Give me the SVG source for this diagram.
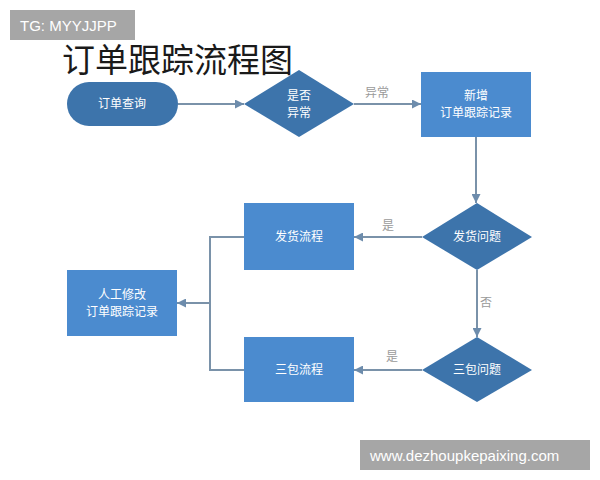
<svg xmlns="http://www.w3.org/2000/svg" width="600" height="480" viewBox="0 0 600 480">
<defs>
<marker id="ah" viewBox="0 0 10 10" refX="10" refY="5" markerWidth="9" markerHeight="9" markerUnits="userSpaceOnUse" orient="auto">
<path d="M0,0 L10,5 L0,10 z" fill="#6d8cac"/>
</marker>
</defs>
<style>
.lbl{font-family:"Noto Sans CJK SC","Liberation Sans",sans-serif;font-size:12px;fill:#ffffff;text-anchor:middle}
.dk{fill:#3d74ab}
.lt{fill:#4b8bcf}
.ln{fill:none;stroke:#7a92a9;stroke-width:2}
.el{font-family:"Noto Sans CJK SC","Liberation Sans",sans-serif;font-size:12px;fill:#9a9a9a;text-anchor:middle}
.wm{fill:#a6a6a6}
.wt{font-family:"Liberation Sans",sans-serif;font-size:15px;fill:#ffffff}
</style>
<rect width="600" height="480" fill="#ffffff"/>
<g id="tag"><rect class="wm" x="10" y="10" width="125" height="30"/><text class="wt" x="20" y="31">TG: MYYJJPP</text></g>
<text x="62" y="72" font-family="Noto Sans CJK SC,sans-serif" font-size="33" fill="#1a1a1a">订单跟踪流程图</text>
<g id="connectors">
<path class="ln" d="M178,104 H244" marker-end="url(#ah)"/>
<path class="ln" d="M354,104 H421" marker-end="url(#ah)"/>
<text class="el" x="377" y="97">异常</text>
<path class="ln" d="M476,137 V203" marker-end="url(#ah)"/>
<path class="ln" d="M422,237 H354" marker-end="url(#ah)"/>
<text class="el" x="388" y="230">是</text>
<path class="ln" d="M477,270 V337" marker-end="url(#ah)"/>
<text class="el" x="486" y="307">否</text>
<path class="ln" d="M422,370 H354" marker-end="url(#ah)"/>
<text class="el" x="392" y="361">是</text>
<path class="ln" d="M244,237 H210 V370 H244"/>
<path class="ln" d="M210,303 H177" marker-end="url(#ah)"/>
</g>
<g id="n1"><rect class="dk" x="67" y="82" width="111" height="44" rx="22"/><text class="lbl" x="122" y="108">订单查询</text></g>
<g id="n2"><path class="dk" d="M299,70 L354,104 L299,137 L244,104 z"/><text class="lbl" x="299" y="100">是否</text><text class="lbl" x="299" y="117">异常</text></g>
<g id="n3"><rect class="lt" x="421" y="72" width="110" height="65"/><text class="lbl" x="476" y="100">新增</text><text class="lbl" x="476" y="117">订单跟踪记录</text></g>
<g id="n4"><path class="dk" d="M477,203 L532,237 L477,270 L422,237 z"/><text class="lbl" x="477" y="241">发货问题</text></g>
<g id="n5"><rect class="lt" x="244" y="203" width="110" height="67"/><text class="lbl" x="299" y="241">发货流程</text></g>
<g id="n6"><path class="dk" d="M477,337 L532,370 L477,402 L422,370 z"/><text class="lbl" x="477" y="374">三包问题</text></g>
<g id="n7"><rect class="lt" x="244" y="337" width="110" height="65"/><text class="lbl" x="299" y="374">三包流程</text></g>
<g id="n8"><rect class="lt" x="67" y="270" width="110" height="66"/><text class="lbl" x="122" y="299">人工修改</text><text class="lbl" x="122" y="316">订单跟踪记录</text></g>
<g id="watermark"><rect class="wm" x="360" y="440" width="230" height="30"/><text class="wt" x="370" y="461">www.dezhoupkepaixing.com</text></g>
</svg>
